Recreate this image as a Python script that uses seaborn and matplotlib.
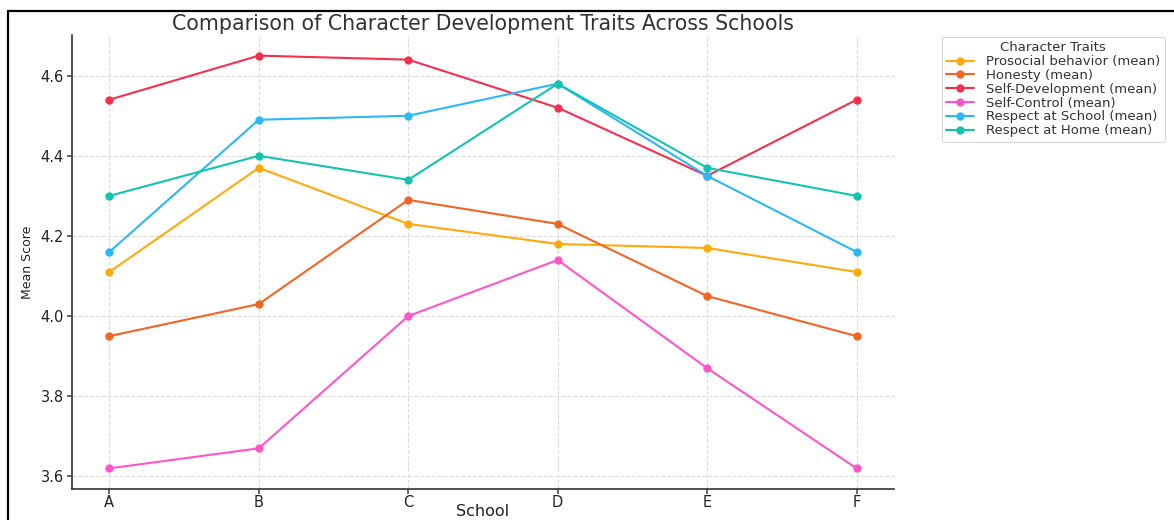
import matplotlib
matplotlib.use("Agg")
import matplotlib.pyplot as plt
import seaborn as sns
import pandas as pd

schools = ["A", "B", "C", "D", "E", "F"]
prosocial = [4.11, 4.37, 4.23, 4.18, 4.17, 4.11]
honesty = [3.95, 4.03, 4.29, 4.23, 4.05, 3.95]
self_development = [4.54, 4.65, 4.64, 4.52, 4.35, 4.54]
self_control = [3.62, 3.67, 4.00, 4.14, 3.87, 3.62]
respect_school = [4.16, 4.49, 4.50, 4.58, 4.35, 4.16]
respect_home = [4.30, 4.40, 4.34, 4.58, 4.37, 4.30]

trait_names = [
    "Prosocial behavior (mean)",
    "Honesty (mean)",
    "Self-Development (mean)",
    "Self-Control (mean)",
    "Respect at School (mean)",
    "Respect at Home (mean)",
]
series = [prosocial, honesty, self_development, self_control, respect_school, respect_home]
colors = ["#FFAA0A", "#F26522", "#F5304F", "#FF55C8", "#2CB8F6", "#12C4B0"]

rows = []
for name, vals in zip(trait_names, series):
    for s, v in zip(schools, vals):
        rows.append({"School": s, "Trait": name, "Mean Score": v})
df = pd.DataFrame(rows)

sns.set_theme(style="white")
plt.rcParams["font.family"] = ["DejaVu Sans"]

fig = plt.figure(figsize=(11.74, 5.2), dpi=100)
ax = fig.add_axes([0.0613, 0.0596, 0.7002, 0.8731])

sns.lineplot(
    data=df, x="School", y="Mean Score", hue="Trait",
    hue_order=trait_names, palette=colors, marker="o",
    markersize=6, markeredgewidth=0, linewidth=1.5, ax=ax, sort=False,
)

ax.grid(True, linestyle="--", color="#dddddd", linewidth=0.8)
sns.despine(ax=ax)
for sp in ("left", "bottom"):
    ax.spines[sp].set_color("#333333")
    ax.spines[sp].set_linewidth(1.2)
ax.tick_params(axis="both", which="both", length=3.5, color="#555555",
               labelsize=10.5, labelcolor="#222222", left=True, bottom=True)
ax.tick_params(axis="x", pad=0.5)
ax.tick_params(axis="y", pad=2.5)
ax.set_title("Comparison of Character Development Traits Across Schools",
             fontsize=14.8, color="#333333", pad=3.5)
ax.set_xlabel("School", fontsize=11.5, color="#222222")
ax.xaxis.set_label_coords(0.5, -0.033)
ax.set_ylabel("Mean Score", fontsize=9, color="#222222")
ax.yaxis.set_label_coords(-0.046, 0.5)
ax.set_yticks([3.6, 3.8, 4.0, 4.2, 4.4, 4.6])

leg = ax.legend(title="Character Traits", loc="upper left",
                bbox_to_anchor=(1.058, 0.996), fontsize=9.5, title_fontsize=9.5,
                frameon=True, borderaxespad=0.0, handlelength=2.1,
                labelspacing=0.06, borderpad=0.35, handletextpad=0.9)
leg.get_frame().set_edgecolor("#cccccc")
leg.get_frame().set_linewidth(0.8)
for t in leg.get_texts():
    t.set_color("#333333")
leg.get_title().set_color("#333333")

# thin black frame along the top and left edges
fig.add_artist(plt.Line2D([0.0068, 1.0], [0.979, 0.979], color="black",
                          linewidth=1.6, transform=fig.transFigure))
fig.add_artist(plt.Line2D([0.0068, 0.0068], [0.0, 0.979], color="black",
                          linewidth=1.6, transform=fig.transFigure))

fig.savefig("out.png", dpi=100, facecolor="white")
